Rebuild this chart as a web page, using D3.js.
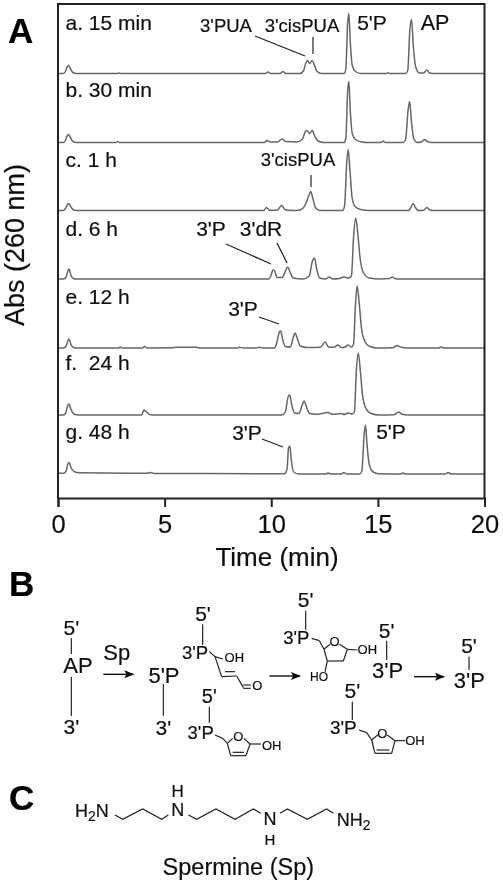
<!DOCTYPE html>
<html><head><meta charset="utf-8">
<script src="https://cdn.jsdelivr.net/npm/d3@7"></script>
<style>html,body{margin:0;padding:0;background:#fff}svg{display:block}text{font-family:"Liberation Sans",Arial,sans-serif;fill:#111;stroke:#111;stroke-width:.2}</style>
</head><body><svg id="c" width="503" height="885"></svg>
<script>
const timeTicks=[0,5,10,15,20];
const sampleNames=["a. 15 min","b. 30 min","c. 1 h","d. 6 h","e. 12 h","f.  24 h","g. 48 h"];
const sampleOffsets=[424.5,355.5,287.5,219,150,83,24];
const traceA=[[0,0],[0.25,0],[0.35,2],[0.44,7],[0.5,8],[0.58,5],[0.7,1],[0.85,0],[2.8,0],[2.85,.6],[2.95,0],[9.72,0],[9.85,1.6],[9.98,0],[10.42,0],[10.55,2],[10.68,0],[11.35,0],[11.52,3],[11.63,11],[11.7,13],[11.8,10],[11.92,13],[12.03,8],[12.15,2],[12.35,0],[13.42,0],[13.5,5],[13.58,50],[13.64,60],[13.71,30],[13.8,8],[13.95,2],[14.2,0],[15.4,0],[15.47,.7],[15.55,0],[16.3,0],[16.4,3],[16.5,44],[16.58,54],[16.66,28],[16.78,6],[16.95,.5],[17.15,.6],[17.3,3.5],[17.42,.4],[17.6,0],[20,0]];
const traceB=[[0,0],[0.25,0],[0.35,2],[0.44,7],[0.5,8],[0.58,5],[0.7,1],[0.85,0],[2.72,0],[2.8,1],[2.88,0],[9.68,0],[9.8,2],[9.95,.6],[10.3,.6],[10.5,3.5],[10.68,1],[11.2,.6],[11.45,3],[11.6,11],[11.68,12],[11.8,9],[11.92,12],[12.03,7],[12.2,1.5],[12.45,0],[13.42,0],[13.5,5],[13.58,50],[13.64,61],[13.71,30],[13.8,9],[13.95,3],[14.25,.5],[14.5,0],[15.15,0],[15.25,1.5],[15.35,0],[16.2,0],[16.3,3],[16.42,33],[16.49,41],[16.57,22],[16.68,4],[16.85,0],[17.05,.5],[17.18,3],[17.32,1],[17.5,0],[20,0]];
const traceC=[[0,0],[0.25,0],[0.35,2],[0.44,6],[0.5,7],[0.58,4.5],[0.7,1],[0.85,0],[9.65,0],[9.77,3],[9.92,.3],[10.28,.3],[10.48,5],[10.66,.8],[10.95,0],[11.35,.6],[11.6,6],[11.76,15],[11.85,19],[11.94,13],[12.07,3],[12.25,.3],[12.5,0],[13.35,0],[13.44,5],[13.54,48],[13.61,61],[13.69,40],[13.79,13],[13.93,4],[14.2,1],[14.6,0],[16.45,0],[16.57,4],[16.66,7],[16.76,3],[16.9,0],[17.15,.3],[17.3,3],[17.43,.5],[17.6,0],[20,0]];
const traceD=[[0,0],[0.27,0],[0.38,2],[0.46,8],[0.52,10],[0.6,4],[0.72,.5],[0.85,0],[9.88,0],[9.98,3],[10.08,9],[10.16,8],[10.27,1.5],[10.5,1.5],[10.65,7],[10.77,12],[10.88,7],[11.02,1],[11.5,0],[11.78,3],[11.93,18],[12.03,21],[12.13,10],[12.27,1],[12.55,0],[12.72,2],[12.88,0],[13.2,.5],[13.4,2],[13.62,1],[13.76,3],[13.86,42],[13.96,61],[14.06,45],[14.17,20],[14.33,6],[14.6,1],[15.1,0],[15.55,.4],[15.67,2],[15.82,.3],[16.1,0],[20,0]];
const traceE=[[0,0],[0.27,0],[0.38,2],[0.46,7],[0.52,9],[0.6,4],[0.72,.5],[0.85,0],[2.85,0],[2.92,1],[3,0],[3.95,0],[4.06,1.5],[4.2,0],[5.4,.2],[5.5,.7],[6.5,.7],[6.7,0],[8.4,0],[8.5,.8],[8.7,0],[9.3,0],[9.45,.8],[9.6,0],[10.15,0],[10.27,6],[10.38,16],[10.44,17],[10.53,9],[10.66,1.5],[10.9,1],[11,8],[11.12,15],[11.2,11],[11.36,2],[11.7,.5],[12.3,.8],[12.53,6],[12.68,1],[12.95,.7],[13.12,3],[13.28,.5],[13.45,.8],[13.6,3],[13.76,1],[13.86,4],[13.95,44],[14.03,62],[14.12,46],[14.23,20],[14.38,7],[14.62,1.5],[15,0],[15.7,.3],[15.9,2.5],[16.08,.8],[16.4,0],[17.85,0],[17.97,1],[18.1,0],[20,0]];
const traceF=[[0,0],[0.25,0],[0.36,2],[0.45,9],[0.52,11],[0.6,6],[0.75,1],[0.95,0],[3.92,0],[4.03,5],[4.1,4],[4.3,.6],[4.55,0],[10.5,0],[10.66,3],[10.79,18],[10.87,20],[10.96,10],[11.1,2],[11.3,1.5],[11.45,10],[11.55,14],[11.65,8],[11.8,1.5],[12.1,.7],[12.66,2.5],[12.85,.7],[13.1,1],[13.3,1.5],[13.42,.5],[13.6,2],[13.8,1],[13.9,3],[13.99,44],[14.08,62],[14.17,46],[14.28,20],[14.43,7],[14.68,1.5],[15.05,0],[15.75,.2],[15.97,3],[16.13,.8],[16.4,0],[20,0]];
const traceG=[[0,.8],[0.27,.8],[0.38,3],[0.46,10],[0.52,11.5],[0.6,7],[0.75,2.5],[1,1.2],[4.2,.8],[4.34,1.6],[4.5,.6],[9.5,.3],[10.4,.2],[10.62,.3],[10.74,5],[10.81,26],[10.87,28],[10.94,14],[11.05,2],[11.3,0],[12.55,0],[12.66,1],[12.8,0],[13.3,0],[13.4,1.5],[13.55,0],[14.15,0],[14.25,3],[14.35,38],[14.42,49],[14.49,30],[14.59,10],[14.78,2],[15.05,.3],[16.05,0],[16.17,1],[16.3,0],[18.18,0],[18.28,1.5],[18.45,0],[20,0]];
const traces=[traceA,traceB,traceC,traceD,traceE,traceF,traceG];

const peakLabels=[["3'PUA",226,32,18.5],["3'cisPUA",302,32,18.5],["5'P",372,30,21],["AP",435,30,21.5],["3'cisPUA",298,166,18.5],["3'P",211,236,21],["3'dR",261,236,21],["3'P",243,316,21],["3'P",247,440,21],["5'P",391,439,21]];
const leaderLines=[[255,36,305,56],[313,37,313,54],[311,175,311,187],[226,244,271,264],[277,243,287,263],[259,317,279,324],[262,439,283,447]];
const schemeLabels=[["5'",214,135,21],["AP",234,250,22],["3'",214,432,21],["Sp",350,210,22],["5'P",492,280,22],["3'",490,435,21],["5'",609,93,21],["3'P",585,208,18.5],["OH",703,216,13],["O",772,300,13],["5'",628,338,20],["3'P",602,447,18.5],["O",715,453,13],["OH",815,480,13],["5'",917,52,21],["3'P",889,163,18.5],["O",1004,168,13],["OH",1102,193,13],["HO",957,272,12],["5'",1160,143,21],["3'P",1163,265,22],["5'",1057,325,21],["3'P",1030,432,19],["O",1147,443,13],["OH",1245,466,13],["5'",1407,188,21],["3'P",1408,293,22],["Spermine (Sp)",715,855,23.5]];
const atomLabels=[["H",533,620,17],["N",533,678,18],["N",810,706,18],["H",810,764,15]];
const bonds=[[214,145,214,192],[214,260,214,378],[490,282,490,377],[608,103,608,165],[628,185,645,200],[645,200,668,207],[645,200,665,260],[665,260,710,258],[675,245,705,245],[710,258,730,293],[730,285,752,285],[730,295,752,295],
[628,350,628,398],[645,435,668,445],[668,445,682,460],[682,460,698,445],[732,445,750,462],[750,462,738,497],[738,497,692,497],[692,497,682,460],[698,487,732,487],[750,462,783,462],
[917,62,917,120],[935,145,958,152],[958,152,972,178],[972,178,990,163],[1018,163,1042,178],[1042,178,1030,213],[1030,213,982,213],[982,213,972,178],[982,213,975,245],[1042,178,1072,180],
[1160,152,1160,210],[1057,335,1057,390],[1077,420,1100,428],[1100,428,1115,450],[1115,450,1133,435],[1162,435,1185,452],[1185,452,1175,490],[1175,490,1125,490],[1125,490,1115,450],[1130,480,1168,480],[1185,452,1215,452],
[1407,200,1407,240]];
const arrows=[[310,253,400,253],[808,258,900,258],[1242,260,1332,260]];
const chain=[[345,675],[368,688],[428,657],[485,688],[505,675],null,[565,675],[590,688],[648,657],[705,688],[760,657],[782,670],null,[840,670],[862,657],[922,688],[980,657],[1000,670]];

const svg=d3.select("#c");
const defs=svg.append("defs");
defs.append("filter").attr("id","soft").attr("x","-5%").attr("y","-5%").attr("width","110%").attr("height","110%").append("feGaussianBlur").attr("stdDeviation",0.5);
const mk=defs.append("marker").attr("id","ah").attr("viewBox","0 0 10 8").attr("refX",9).attr("refY",4).attr("markerWidth",11).attr("markerHeight",8).attr("markerUnits","userSpaceOnUse").attr("orient","auto");
mk.append("path").attr("d","M0,0L10,4L0,8L2,4Z").attr("fill","#111");
const root=svg.append("g").attr("filter","url(#soft)");
root.append("rect").attr("width",503).attr("height",885).attr("fill","#fff");

const x=d3.scaleLinear().domain([0,20]).range([58,484.5]);
const y=d3.scaleLinear().domain([0,494]).range([498,4]);
const line=d3.line().curve(d3.curveMonotoneX);

root.selectAll("path.trace").data(traces).join("path").attr("class","trace")
 .attr("fill","none").attr("stroke","#666").attr("stroke-width",1.5)
 .attr("d",(t,i)=>line(t.map(p=>[x(p[0]),y(sampleOffsets[i]+p[1])])));

const fr="#222";
root.append("path").attr("fill","none").attr("stroke",fr).attr("stroke-width",2)
 .attr("d",d3.line()([[x(0),y(0)],[x(0),y(494)],[x(20),y(494)],[x(20),y(0)]]));
const ax=root.append("g").attr("transform",`translate(0,${y(0)})`)
 .call(d3.axisBottom(x).tickValues(timeTicks).tickFormat(d3.format("d")).tickSize(9).tickPadding(8));
ax.selectAll("path,line").attr("stroke",fr).attr("stroke-width",2);
ax.selectAll("text").attr("font-size",25.5).attr("font-family",'"Liberation Sans",Arial,sans-serif').attr("fill","#111");
root.append("text").attr("x",277).attr("y",566).attr("text-anchor","middle").attr("font-size",26).text("Time (min)");
root.append("text").attr("transform","translate(24,245) rotate(-90)").attr("text-anchor","middle").attr("font-size",27).text("Abs (260 nm)");

const nameBase=[30,96.5,166.5,236,303.5,370,439];
root.selectAll("text.nm").data(sampleNames).join("text").attr("class","nm").attr("x",65.5).attr("y",(d,i)=>nameBase[i]).attr("font-size",21).style("white-space","pre").text(d=>d);
root.selectAll("text.pk").data(peakLabels).join("text").attr("class","pk").attr("x",d=>d[1]).attr("y",d=>d[2]).attr("font-size",d=>d[3]).attr("text-anchor","middle").text(d=>d[0]);
root.selectAll("line.ld").data(leaderLines).join("line").attr("class","ld").attr("x1",d=>d[0]).attr("y1",d=>d[1]).attr("x2",d=>d[2]).attr("y2",d=>d[3]).attr("stroke","#222").attr("stroke-width",1.2);

[["A",8,43],["B",9,596],["C",9,810]].forEach(d=>root.append("text").attr("x",d[1]).attr("y",d[2]).attr("font-size",35).attr("font-weight","bold").style("fill","#000").style("stroke","#000").text(d[0]));

const sx=v=>v/3, sy=v=>590+v/3;
root.selectAll("text.sc").data(schemeLabels).join("text").attr("class","sc").attr("x",d=>sx(d[1])).attr("y",d=>sy(d[2])).attr("font-size",d=>d[3]).attr("text-anchor","middle").text(d=>d[0]);
root.selectAll("text.at").data(atomLabels).join("text").attr("class","at").attr("x",d=>sx(d[1])).attr("y",d=>sy(d[2])).attr("font-size",d=>d[3]).attr("text-anchor","middle").text(d=>d[0]);
root.selectAll("line.bd").data(bonds).join("line").attr("class","bd").attr("x1",d=>sx(d[0])).attr("y1",d=>sy(d[1])).attr("x2",d=>sx(d[2])).attr("y2",d=>sy(d[3])).attr("stroke","#222").attr("stroke-width",1.2);
root.selectAll("line.ar").data(arrows).join("line").attr("class","ar").attr("x1",d=>sx(d[0])).attr("y1",d=>sy(d[1])).attr("x2",d=>sx(d[2])).attr("y2",d=>sy(d[3])).attr("stroke","#111").attr("stroke-width",1.4).attr("marker-end","url(#ah)");
root.append("path").attr("fill","none").attr("stroke","#222").attr("stroke-width",1.2)
 .attr("d",d3.line().defined(d=>d).x(d=>sx(d[0])).y(d=>sy(d[1]))(chain));
const sub=(xx,yy,a,s,b)=>{const t=root.append("text").attr("x",sx(xx)).attr("y",sy(yy)).attr("font-size",18);
 t.append("tspan").text(a);t.append("tspan").attr("dy",4).attr("font-size",14).text(s);t.append("tspan").attr("dy",-4).text(b);};
sub(225,680,"H","2","N");sub(1010,708,"NH","2","");
</script></body></html>
